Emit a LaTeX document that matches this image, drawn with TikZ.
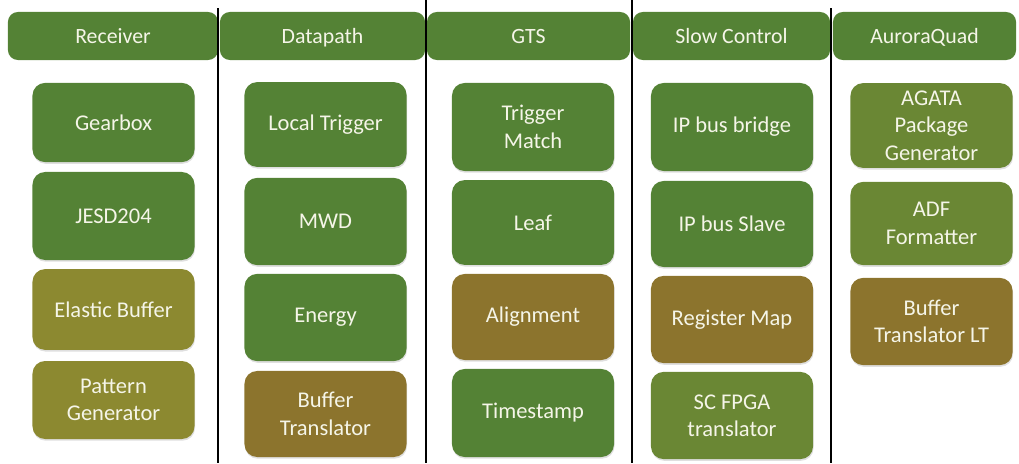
\documentclass[tikz,border=0pt]{standalone}
\usepackage{fontspec}
\setmainfont{Carlito}
\usepackage{xcolor}
\usetikzlibrary{shadows}
\definecolor{blockgreen}{RGB}{84, 130, 53}
\definecolor{blockolive}{RGB}{140, 137, 48}
\definecolor{blockbrown}{RGB}{140, 116, 45}
\definecolor{blockleaf}{RGB}{106, 135, 52}
\definecolor{blocktext}{RGB}{245, 245, 232}

\begin{document}
\begin{tikzpicture}[x=0.025cm, y=-0.025cm,
  headbox/.style={fill=blockgreen, rounded corners=7pt, minimum height=1.2cm, text=blocktext,
    font=\fontsize{15.5}{18.5}\selectfont, inner sep=0pt, text height=11pt, text depth=1pt},
  blockbox/.style={fill=#1, rounded corners=9pt, minimum width=4.05cm, minimum height=2.15cm,
    text=blocktext, align=center, font=\fontsize{16}{19.5}\selectfont, inner sep=0pt,
    drop shadow={shadow xshift=0.4pt, shadow yshift=-1.2pt, opacity=0.25}},
  blockbox/.default=blockgreen,
  sepline/.style={line width=1.3pt, black}]
\useasboundingbox (0,0) rectangle (1019,463);

% column headers
\node[headbox, minimum width=5.25cm]  (receiver) at (113,36)   {Receiver};
\node[headbox, minimum width=5.125cm] (datapath) at (322.5,36) {Datapath};
\node[headbox, minimum width=5.075cm] (gts)      at (528.5,36) {GTS};
\node[headbox, minimum width=4.925cm] (slowctrl) at (731.5,36) {Slow Control};
\node[headbox, minimum width=4.575cm] (aurora)   at (924.5,36) {AuroraQuad};

% separators
\draw[sepline] (218,8) -- (218,463);
\draw[sepline] (426,0) -- (426,463);
\draw[sepline] (632,0) -- (632,463);
\draw[sepline] (831,8) -- (831,463);

% Receiver
\node[blockbox, minimum height=1.98cm] (gearbox) at (113.5,122.5) {Gearbox};
\node[blockbox, minimum height=2.2cm] (jesd) at (113.5,216) {JESD204};
\node[blockbox=blockolive, minimum height=2.02cm] (elastic) at (113.5,309.5) {Elastic Buffer};
\node[blockbox=blockolive, minimum height=1.95cm] (pattern) at (113.5,400) {Pattern\\Generator};

% Datapath
\node[blockbox, minimum height=2.12cm] (localtrig) at (325.5,124.5) {Local Trigger};
\node[blockbox, minimum height=2.18cm] (mwd) at (325.5,221.5) {MWD};
\node[blockbox, minimum height=2.18cm] (energy) at (325.5,317.5) {Energy};
\node[blockbox=blockbrown] (buftrans) at (325.5,414) {Buffer\\Translator};

% GTS
\node[blockbox, minimum height=2.2cm] (trigmatch) at (533,127) {Trigger\\Match};
\node[blockbox, minimum height=2.12cm] (leaf) at (533,222.5) {Leaf};
\node[blockbox=blockbrown] (align) at (533,317) {Alignment};
\node[blockbox, minimum height=2.2cm] (timestamp) at (533,413) {Timestamp};

% Slow Control
\node[blockbox, minimum height=2.2cm] (ipbridge) at (732,127) {IP bus bridge};
\node[blockbox] (ipslave) at (732,224) {IP bus Slave};
\node[blockbox=blockbrown, minimum height=2.18cm] (regmap) at (732,319.5) {Register Map};
\node[blockbox=blockleaf, minimum height=2.18cm] (scfpga) at (732,415.5) {SC FPGA\\translator};

% AuroraQuad
\node[blockbox=blockleaf, minimum height=2.12cm] (agata) at (931.5,125.5) {AGATA\\Package\\Generator};
\node[blockbox=blockleaf, minimum height=2.08cm] (adf) at (931.5,223.5) {ADF\\Formatter};
\node[blockbox=blockbrown, minimum height=2.18cm] (buftranslt) at (931.5,321.5) {Buffer\\Translator LT};
\end{tikzpicture}
\end{document}
